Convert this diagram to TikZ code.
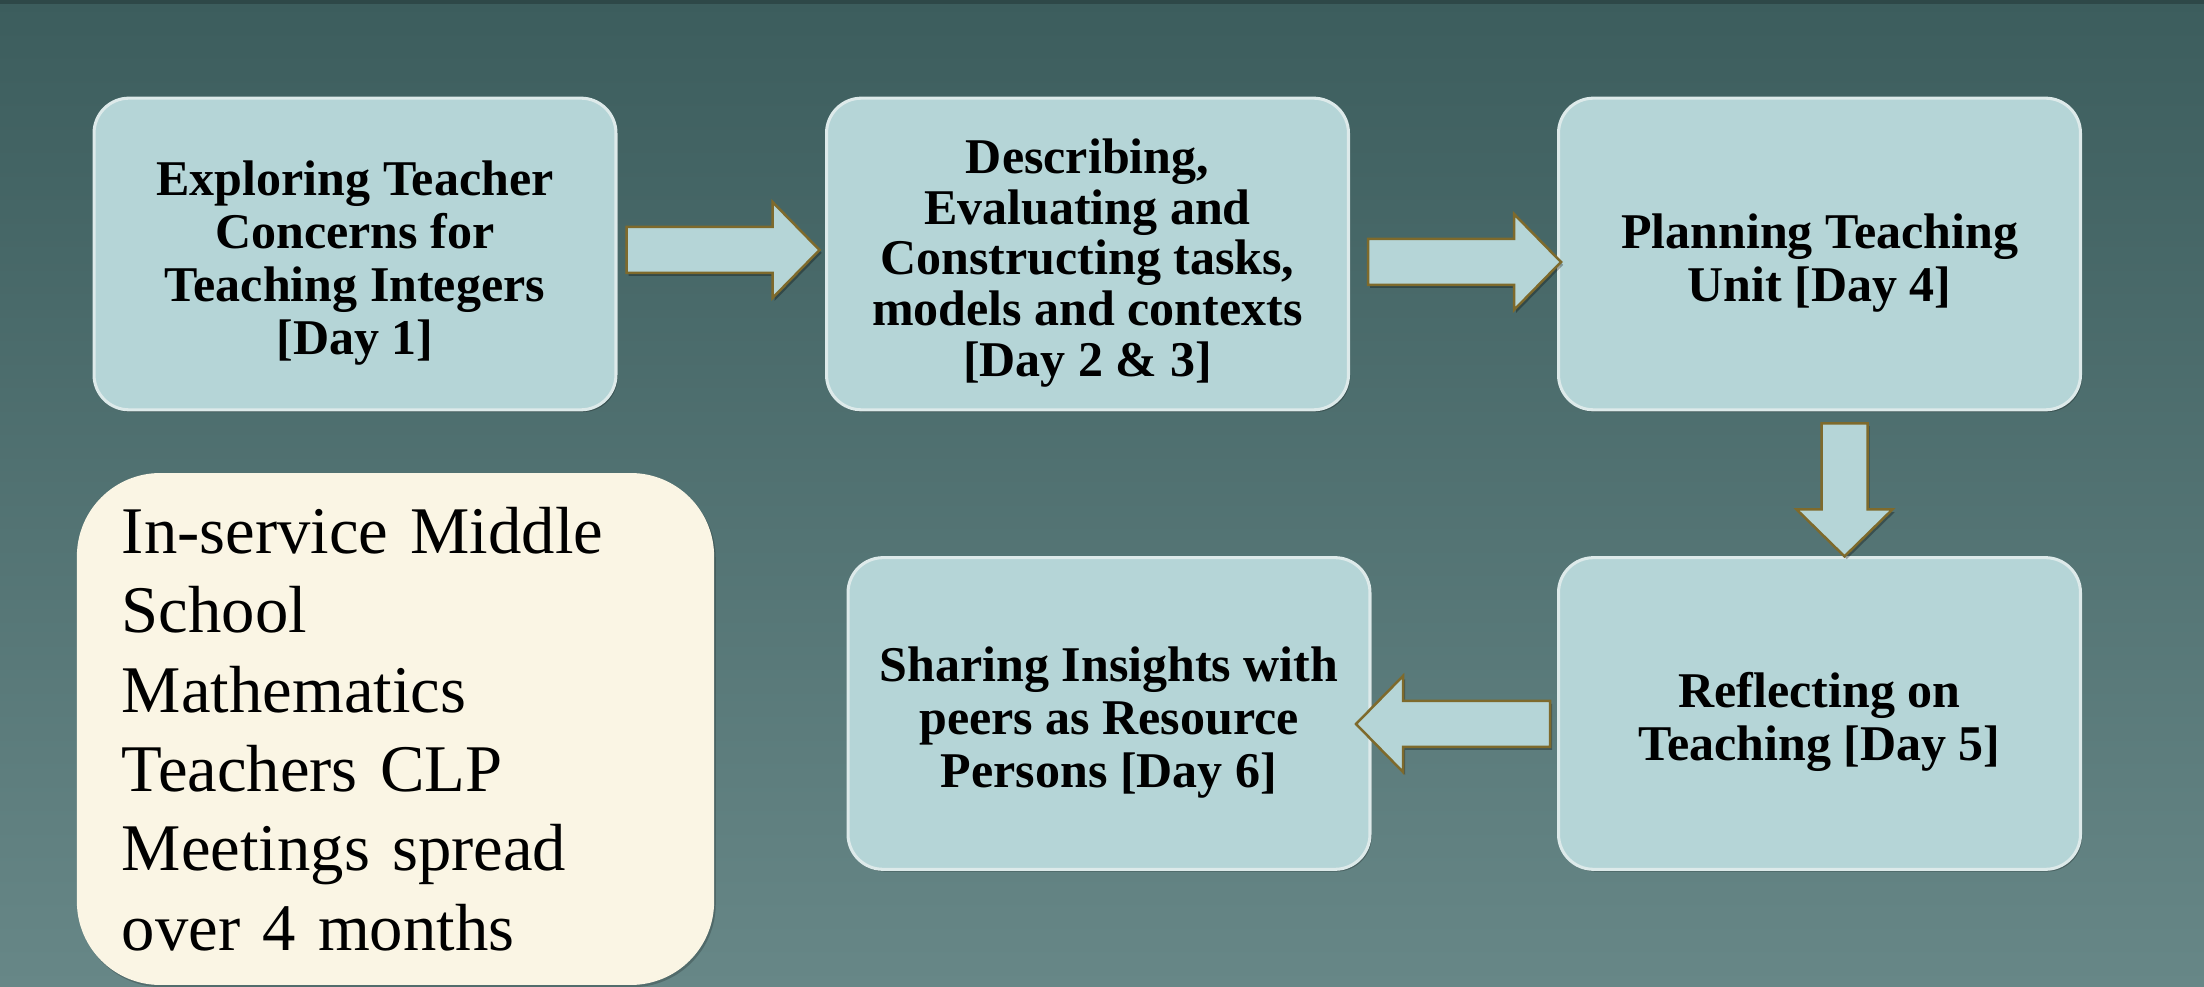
\documentclass[tikz,border=0pt]{standalone}
\usepackage{fontspec}
\setmainfont{Liberation Serif}
\usetikzlibrary{calc,shadows}

\definecolor{bgtop}{HTML}{3C5D5D}
\definecolor{bgbot}{HTML}{678787}
\definecolor{topband}{HTML}{2E4848}
\definecolor{boxfill}{HTML}{B5D5D7}
\definecolor{boxedge}{HTML}{DDEAEA}
\definecolor{arrowedge}{HTML}{7E6A2C}
\definecolor{notefill}{HTML}{FAF5E4}

% taller first line, so the text sits a little lower in its box
\newcommand\tallstrut{\rule{0pt}{19pt}}

\tikzset{
  stepbox/.style={
    draw=boxedge, line width=1.1pt, fill=boxfill,
    rounded corners=12.6pt,
    minimum width=187.9pt, minimum height=112.2pt,
    align=center, inner sep=4pt,
    font=\fontsize{18}{19}\selectfont\bfseries,
    drop shadow={shadow xshift=0.6pt, shadow yshift=-0.8pt, opacity=0.25, fill=black}
  },
  notebox/.style={
    fill=notefill, rounded corners=30pt,
    minimum width=229.3pt, minimum height=184.3pt,
    text width=197pt, align=left, inner xsep=16.2pt,
    font=\fontsize{24}{28.6}\selectfont,
    drop shadow={shadow xshift=0.6pt, shadow yshift=-0.8pt, opacity=0.2, fill=black}
  },
  flowarrow/.style={
    draw=arrowedge, line width=0.9pt, fill=boxfill, line join=miter,
    drop shadow={shadow xshift=0.8pt, shadow yshift=-1pt, opacity=0.3, fill=black}
  }
}

% block arrow: #1 start point, #2 direction angle, #3 length (px units)
\newcommand\blockarrow[3]{%
  \draw[flowarrow, shift={(#1)}, rotate=#2]
    (0,-23) -- ({#3-47},-23) -- ({#3-47},-48) -- (#3,0) --
    ({#3-47},48) -- ({#3-47},23) -- (0,23) -- cycle;}

\begin{document}
\begin{tikzpicture}[x=0.36pt, y=-0.36pt]
  \useasboundingbox (0,0) rectangle (2204,987);

  % slide background
  \fill[top color=bgtop, bottom color=bgbot] (0,0) rectangle (2204,987);
  \fill[topband] (0,0) rectangle (2204,4);

  % process steps
  \node[stepbox] (b1) at (355,254)
    {\tallstrut Exploring Teacher\\Concerns for\\Teaching Integers\\{[}Day 1{]}};
  \node[stepbox, font=\fontsize{18}{18.2}\selectfont\bfseries] (b2) at (1087.5,254)
    {\tallstrut Describing,\\Evaluating and\\Constructing tasks,\\models and contexts\\{[}Day 2 \& 3{]}};
  \node[stepbox] (b3) at (1819.5,254)
    {\tallstrut Planning Teaching\\Unit {[}Day 4{]}};
  \node[stepbox] (b5) at (1819.5,713.5)
    {\tallstrut Reflecting on\\Teaching {[}Day 5{]}};
  \node[stepbox] (b6) at (1109,713.5)
    {\tallstrut Sharing Insights with\\peers as Resource\\Persons {[}Day 6{]}};

  % participants note
  \node[notebox] (note) at (395.5,729)
    {In-service Middle\\School\\Mathematics\\Teachers CLP\\Meetings spread\\over 4 months};

  % connectors between steps
  \coordinate (a1) at ($(b1.east)+(9,-4)$);
  \coordinate (a2) at ($(b2.east)+(18,8)$);
  \coordinate (a3) at ($(b3.south)+(25,12)$);
  \coordinate (a4) at ($(b5.west)+(-7,10.5)$);
  \blockarrow{a1}{0}{193}
  \blockarrow{a2}{0}{193}
  \blockarrow{a3}{-90}{133}
  \blockarrow{a4}{180}{194}
\end{tikzpicture}
\end{document}
